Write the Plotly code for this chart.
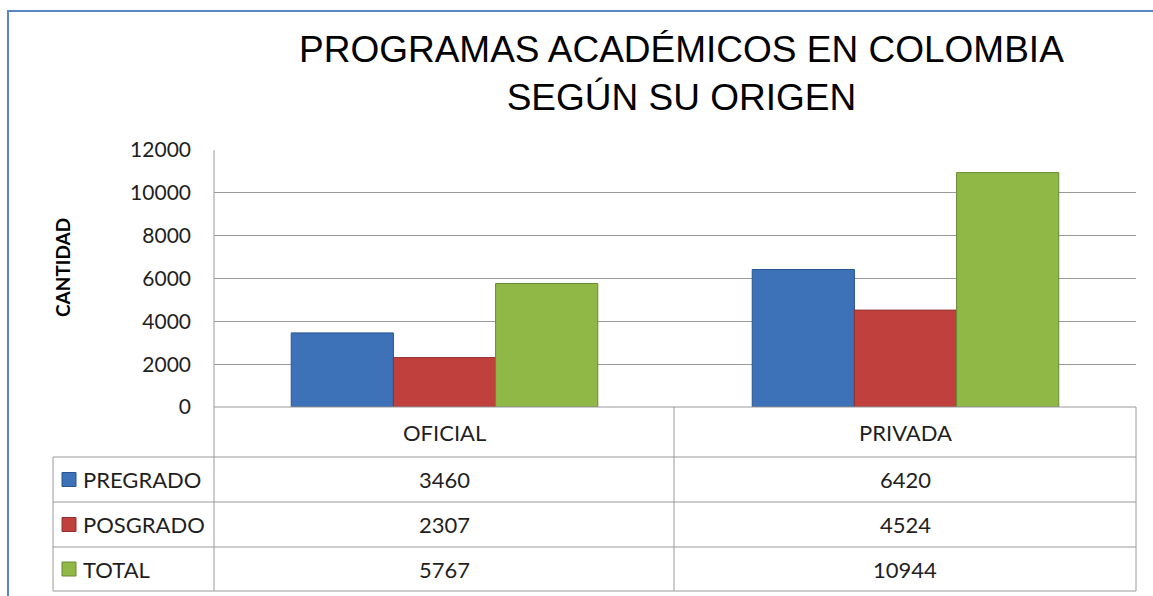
import plotly.graph_objects as go

categories = ["OFICIAL", "PRIVADA"]
series_names = ["PREGRADO", "POSGRADO", "TOTAL"]
pregrado = [3460, 6420]
posgrado = [2307, 4524]
total = [5767, 10944]
y_ticks = [0, 2000, 4000, 6000, 8000, 10000, 12000]
y_tick_labels = ["0", "2000", "4000", "6000", "8000", "10000", "12000"]

colors = ["#3d71b8", "#c0403d", "#8fb847"]
edge_colors = ["#2a5590", "#93302d", "#6a8a32"]
values = [pregrado, posgrado, total]

W, H = 1153, 596
L, R, T, B = 214, 1136, 150, 407  # plot area in pixels
pw, ph = R - L, B - T


def px(x):
    return (x - L) / pw


def py(y):
    return (B - y) / ph


fig = go.Figure()
for name, vals, c, ec in zip(series_names, values, colors, edge_colors):
    fig.add_trace(go.Bar(
        x=categories, y=vals, name=name,
        marker=dict(color=c, line=dict(color=ec, width=1)),
        hoverinfo="skip",
    ))

FONT = "Lato"
TXT = "#1f1f1f"
GRID = "#9a9a9a"
shapes = []
annotations = []


def line(x0, y0, x1, y1, color=GRID, width=1):
    shapes.append(dict(type="line", xref="paper", yref="paper",
                       x0=px(x0), y0=py(y0), x1=px(x1), y1=py(y1),
                       line=dict(color=color, width=width), layer="above"))


def text(x, y, s, size=22, xanchor="center", bold=False, color=TXT, family=FONT, textangle=0):
    annotations.append(dict(xref="paper", yref="paper", x=px(x), y=py(y),
                            text=f"<b>{s}</b>" if bold else s, showarrow=False,
                            xanchor=xanchor, yanchor="middle", textangle=textangle,
                            font=dict(family=family, size=size, color=color)))


# outer blue frame
shapes.append(dict(type="rect", xref="paper", yref="paper",
                   x0=px(8), y0=py(11), x1=px(1170), y1=py(620),
                   line=dict(color="#5b86c5", width=2), layer="below"))

# data table grid
row_lines = [457, 502, 547, 591]
line(L, B, R, B)
for yy in row_lines:
    line(53, yy, R, yy)
line(53, 457, 53, 591)
line(L, T, L, 591)
line(674, B, 674, 591)
line(R, B, R, 591)

# header row
col_centers = [444, 905]
for cx, cat in zip(col_centers, categories):
    text(cx, 432, cat)

row_centers = [479.5, 524.5, 569]
for rc, name, vals, c, ec in zip(row_centers, series_names, values, colors, edge_colors):
    shapes.append(dict(type="rect", xref="paper", yref="paper",
                       x0=px(62), y0=py(rc - 7), x1=px(76), y1=py(rc + 7),
                       fillcolor=c, line=dict(color=ec, width=1), layer="above"))
    text(81, rc, name, xanchor="left")
    for cx, v in zip(col_centers, vals):
        text(cx, rc, str(v))

# titles
annotations.append(dict(xref="paper", yref="paper", x=px(681), y=py(74),
                        text="PROGRAMAS ACADÉMICOS EN COLOMBIA<br>SEGÚN SU ORIGEN",
                        showarrow=False, xanchor="center", yanchor="middle",
                        font=dict(family="Liberation Sans", size=37, color="#000000")))
text(62, 268, "CANTIDAD", size=19, bold=True, textangle=-90, color="#000000")

fig.update_layout(
    width=W, height=H,
    margin=dict(l=L, r=W - R, t=T, b=H - B),
    paper_bgcolor="white", plot_bgcolor="white",
    showlegend=False,
    barmode="group", bargap=0.335, bargroupgap=0,
    shapes=shapes, annotations=annotations,
    xaxis=dict(showticklabels=False, showgrid=False, zeroline=False, showline=False,
               ticks=""),
    yaxis=dict(range=[0, 12000], tickvals=y_ticks, ticktext=y_tick_labels,
               showgrid=True, gridcolor=GRID,
               gridwidth=1, zeroline=False, showline=False, ticks="",
               ticklabelstandoff=22,
               tickfont=dict(family=FONT, size=21, color=TXT)),
)

fig.write_html("out.html", config={"displayModeBar": False},
               post_script="document.body.style.margin='0';document.body.style.padding='0';")
